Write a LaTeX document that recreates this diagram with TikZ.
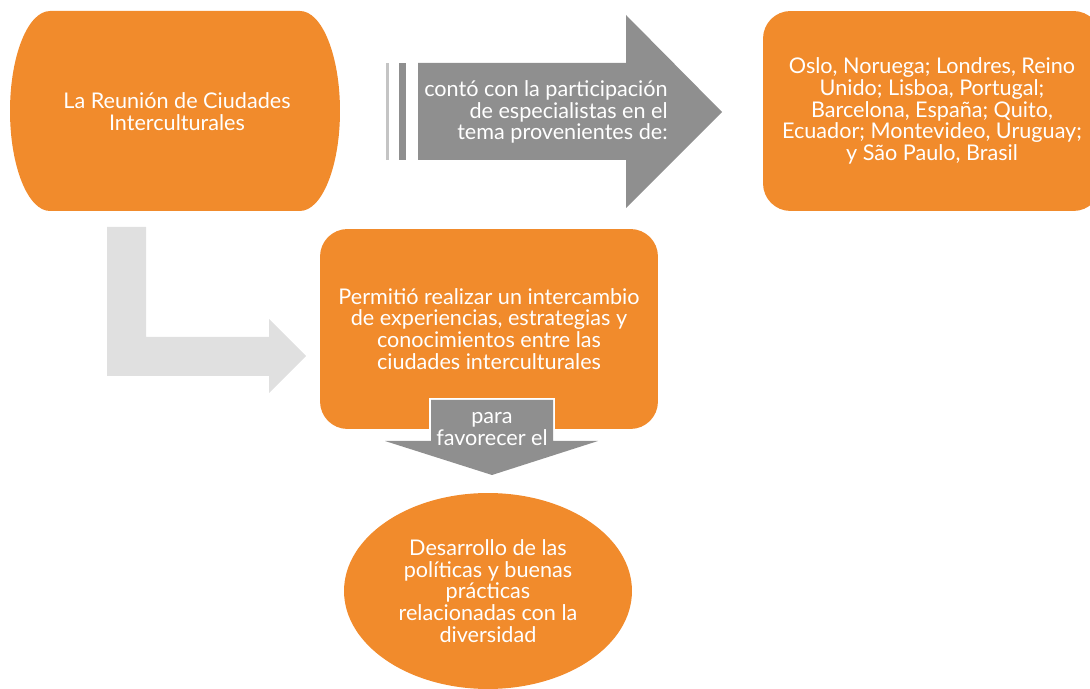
\documentclass[tikz,border=0pt]{standalone}
\usepackage{fontspec}
\setmainfont{Lato}
\usetikzlibrary{shapes.geometric}
\usetikzlibrary{positioning}
\definecolor{naranja}{RGB}{241,139,44}
\definecolor{grisflecha}{RGB}{143,143,143}
\definecolor{grisraya}{RGB}{196,196,196}
\definecolor{grisclaro}{RGB}{224,224,224}
\tikzset{x=0.02cm, y=-0.02cm,
    texto/.style={
        text=white,
        align=center,
        inner sep=0pt,
        font=\fontsize{12.3}{12.4}\selectfont},
    caja/.style={
        texto,
        fill=naranja,
        rounded corners=0.55cm,
        minimum width=6.76cm,
        minimum height=4cm},
    ovalo/.style={
        texto,
        ellipse,
        fill=naranja,
        minimum width=5.76cm,
        minimum height=3.92cm}}

\begin{document}
\begin{tikzpicture}
        \useasboundingbox (0,0) rectangle (1090,689);
        % reunion
        \fill[naranja] (50,11) -- (300,11)
            arc[start angle=90, end angle=-90, x radius=0.8cm, y radius=2cm]
            -- (50,211)
            arc[start angle=270, end angle=90, x radius=0.8cm, y radius=2cm] -- cycle;
        \node[texto] (reunion) at (177,112) {La Reunión de Ciudades\\Interculturales};
        % flecha gris
        \fill[grisraya] (386,63) rectangle (389,160);
        \fill[grisflecha] (399,63) rectangle (406,160);
        \fill[grisflecha] (418,63) -- (626,63) -- (626,15) -- (722,112)
            -- (626,208) -- (626,160) -- (418,160) -- cycle;
        \node[texto, align=right, anchor=east] (contó) at (668,112)
            {contó con la participación\\de especialistas en el\\tema provenientes de:};
        \node[caja] (ciudades) at (932,111)
            {Oslo, Noruega; Londres, Reino\\Unido; Lisboa, Portugal;\\Barcelona, España; Quito,\\Ecuador; Montevideo, Uruguay;\\y São Paulo, Brasil};
        % flecha en L
        \fill[grisclaro] (107,227) -- (146,227) -- (146,337) -- (269,337) -- (269,319)
            -- (306,356) -- (269,393) -- (269,376) -- (107,376) -- cycle;
        \node[caja] (permitio) at (489,329)
            {Permitió realizar un intercambio\\de experiencias, estrategias y\\conocimientos entre las\\ciudades interculturales};
        % flecha abajo
        \draw[white, line width=2.8pt] (431,441) -- (431,400) -- (553,400) -- (553,441);
        \fill[grisflecha]
            (431,400) -- (553,400) -- (553,441) -- (598,441) -- (492,475)
            -- (385,441) -- (431,441) -- cycle;
        \node[texto] (para) at (492,429) {para\\favorecer el};
        \node[ovalo] (desarrollo) at (488,591)
            {Desarrollo de las\\políticas y buenas\\prácticas\\relacionadas con la\\diversidad};
    \end{tikzpicture}
\end{document}
